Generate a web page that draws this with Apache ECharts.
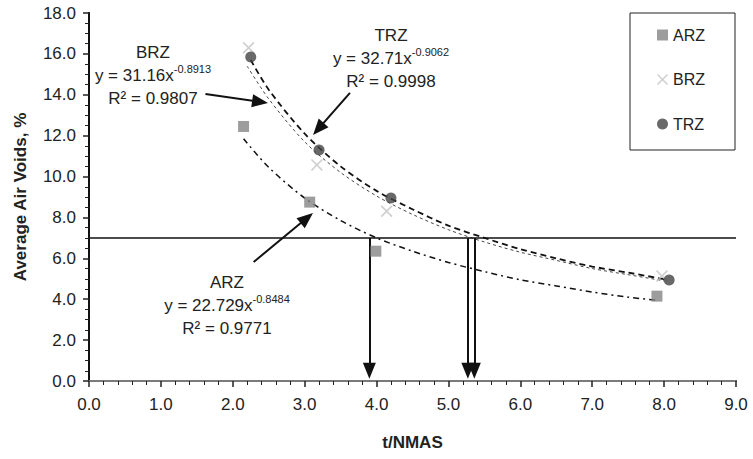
<!DOCTYPE html>
<html>
<head>
<meta charset="utf-8">
<script src="https://cdn.jsdelivr.net/npm/echarts@6/dist/echarts.min.js"></script>
</head>
<body style="margin:0;background:#fff;">
<div id="main" style="width:753px;height:459px;"></div>
<script type="text/javascript">
// measured points
var arzX = [2.15, 3.07, 3.99, 7.9];
var arzY = [12.45, 8.75, 6.35, 4.15];
var brzX = [2.22, 3.17, 4.14, 7.97];
var brzY = [16.3, 10.57, 8.3, 5.13];
var trzX = [2.25, 3.2, 4.2, 8.07];
var trzY = [15.85, 11.3, 8.95, 4.94];

// trend lines
var arzTrendX = [2.15, 2.5, 3, 3.5, 4, 4.5, 5, 5.5, 6, 6.5, 7, 7.5, 7.9];
var arzTrendY = [11.85, 10.45, 8.95, 7.85, 7.0, 6.35, 5.8, 5.35, 4.95, 4.65, 4.35, 4.1, 3.95];
var brzTrendX = [2.2, 2.5, 3, 3.5, 4, 4.5, 5, 5.5, 6, 6.5, 7, 7.5, 8];
var brzTrendY = [15.4, 13.8, 11.7, 10.2, 9.05, 8.15, 7.4, 6.8, 6.3, 5.9, 5.5, 5.2, 4.9];
var trzTrendX = [2.25, 2.5, 3, 3.5, 4, 4.5, 5, 5.5, 6, 6.5, 7, 7.5, 8.05];
var trzTrendY = [15.7, 14.25, 12.1, 10.5, 9.3, 8.4, 7.6, 7.0, 6.45, 6.0, 5.6, 5.3, 4.95];

// 7% target and where each curve crosses it
var target = 7.0;
var crossX = [3.9, 5.27, 5.36];

var font = 'Liberation Sans';
var xIcon = 'path://M0,1L1,0L5,4L9,0L10,1L6,5L10,9L9,10L5,6L1,10L0,9L4,5Z';

function pairs(xs, ys) {
    var out = [];
    for (var i = 0; i < xs.length; i++) out.push([xs[i], ys[i]]);
    return out;
}

var myChart = echarts.init(document.getElementById('main'), null, {renderer: 'svg'});

var arrowLines = [
    [{coord: [1.62, 14.04]}, {coord: [2.38, 13.65]}],
    [{coord: [3.63, 14.09]}, {coord: [3.19, 12.33]}],
    [{coord: [2.29, 5.82]}, {coord: [3.03, 7.97]}]
];
for (var i = 0; i < crossX.length; i++) {
    arrowLines.push([{coord: [crossX[i], target]}, {coord: [crossX[i], 0.5]}]);
}

var sup = {fontSize: 11, lineHeight: 10, verticalAlign: 'top', fontFamily: font, fill: '#222'};
function note(x, y, name, a, b, r2) {
    return {
        type: 'text', x: x, y: y,
        style: {
            text: name + '\ny = ' + a + 'x{s|' + b + '}\nR² = ' + r2,
            align: 'center', verticalAlign: 'middle',
            fontSize: 17, lineHeight: 23, fontFamily: font, fill: '#222',
            rich: {s: sup}
        }
    };
}

var option = {
    backgroundColor: '#fff',
    animation: false,
    textStyle: {fontFamily: font},
    grid: {left: 89, right: 17, top: 13, bottom: 78},
    legend: {
        orient: 'vertical',
        left: 630, top: 13,
        padding: [14, 30, 18, 27],
        itemGap: 28.5,
        itemWidth: 11, itemHeight: 11,
        borderColor: '#222', borderWidth: 1,
        textStyle: {fontSize: 16, color: '#222', lineHeight: 16, fontFamily: font},
        data: [
            {name: 'ARZ', icon: 'rect'},
            {name: 'BRZ', icon: xIcon},
            {name: 'TRZ', icon: 'circle'}
        ]
    },
    xAxis: [{
        type: 'value', min: 0, max: 9, interval: 1,
        name: 't/NMAS', nameLocation: 'middle', nameGap: 53,
        nameTextStyle: {fontSize: 17, fontWeight: 'bold', color: '#222', fontFamily: font},
        axisLine: {lineStyle: {color: '#222', width: 2}},
        axisTick: {length: 6, lineStyle: {color: '#222', width: 1.5}},
        minorTick: {show: true, splitNumber: 5, length: 4, lineStyle: {color: '#222', width: 1}},
        axisLabel: {fontSize: 17, color: '#222', margin: 15, formatter: function (v) { return v.toFixed(1); }},
        splitLine: {show: false}
    }, {
        type: 'value', min: 0, max: 9, position: 'top',
        axisLine: {show: true, lineStyle: {color: '#999', width: 1.5}},
        axisTick: {show: false}, axisLabel: {show: false}, splitLine: {show: false}
    }],
    yAxis: [{
        type: 'value', min: 0, max: 18, interval: 2,
        name: 'Average Air Voids, %', nameLocation: 'middle', nameGap: 60,
        nameTextStyle: {fontSize: 17, fontWeight: 'bold', color: '#222', fontFamily: font},
        axisLine: {show: true, lineStyle: {color: '#222', width: 2}},
        axisTick: {length: 6, lineStyle: {color: '#222', width: 1.5}},
        minorTick: {show: true, splitNumber: 4, length: 4, lineStyle: {color: '#222', width: 1}},
        axisLabel: {fontSize: 17, color: '#222', margin: 13, formatter: function (v) { return v.toFixed(1); }},
        splitLine: {show: false}
    }, {
        type: 'value', min: 0, max: 18, position: 'right',
        axisLine: {show: true, lineStyle: {color: '#111', width: 2}},
        axisTick: {show: false}, axisLabel: {show: false}, splitLine: {show: false}
    }],
    graphic: [
        note(153, 75, 'BRZ', '31.16', '-0.8913', '0.9807'),
        note(391, 58, 'TRZ', '32.71', '-0.9062', '0.9998'),
        note(227, 305, 'ARZ', '22.729', '-0.8484', '0.9771')
    ],
    series: [
        {
            name: 'ARZ trend', type: 'line', smooth: 0.3, symbol: 'none',
            lineStyle: {color: '#111', width: 1.5, type: [6, 4, 2, 4]},
            data: pairs(arzTrendX, arzTrendY), z: 2
        },
        {
            name: 'BRZ trend', type: 'line', smooth: 0.3, symbol: 'none',
            lineStyle: {color: '#444', width: 1, type: [3, 3]},
            data: pairs(brzTrendX, brzTrendY), z: 2
        },
        {
            name: 'TRZ trend', type: 'line', smooth: 0.3, symbol: 'none',
            lineStyle: {color: '#111', width: 1.8, type: [6, 4]},
            data: pairs(trzTrendX, trzTrendY), z: 2
        },
        {
            name: 'ARZ', type: 'scatter', symbol: 'rect', symbolSize: 11,
            itemStyle: {color: '#858585'}, data: pairs(arzX, arzY), z: 5
        },
        {
            name: 'BRZ', type: 'scatter', symbol: xIcon, symbolSize: 12,
            itemStyle: {color: '#c4c4c4'}, data: pairs(brzX, brzY), z: 5
        },
        {
            name: 'TRZ', type: 'scatter', symbol: 'circle', symbolSize: 11,
            itemStyle: {color: '#444'}, data: pairs(trzX, trzY), z: 6
        },
        {
            name: 'guides', type: 'line', data: [], z: 4,
            markLine: {
                silent: true, animation: false,
                symbol: ['none', 'none'],
                label: {show: false},
                lineStyle: {color: '#111', width: 1.5, type: 'solid'},
                data: [[{coord: [0, target]}, {coord: [9, target]}]]
            }
        },
        {
            name: 'arrows', type: 'line', data: [], z: 4,
            markLine: {
                silent: true, animation: false,
                symbol: ['none', 'triangle'], symbolSize: [13, 16],
                label: {show: false},
                lineStyle: {color: '#111', width: 2, type: 'solid'},
                itemStyle: {color: '#111'},
                data: arrowLines
            }
        }
    ]
};

myChart.setOption(option);
</script>
</body>
</html>
